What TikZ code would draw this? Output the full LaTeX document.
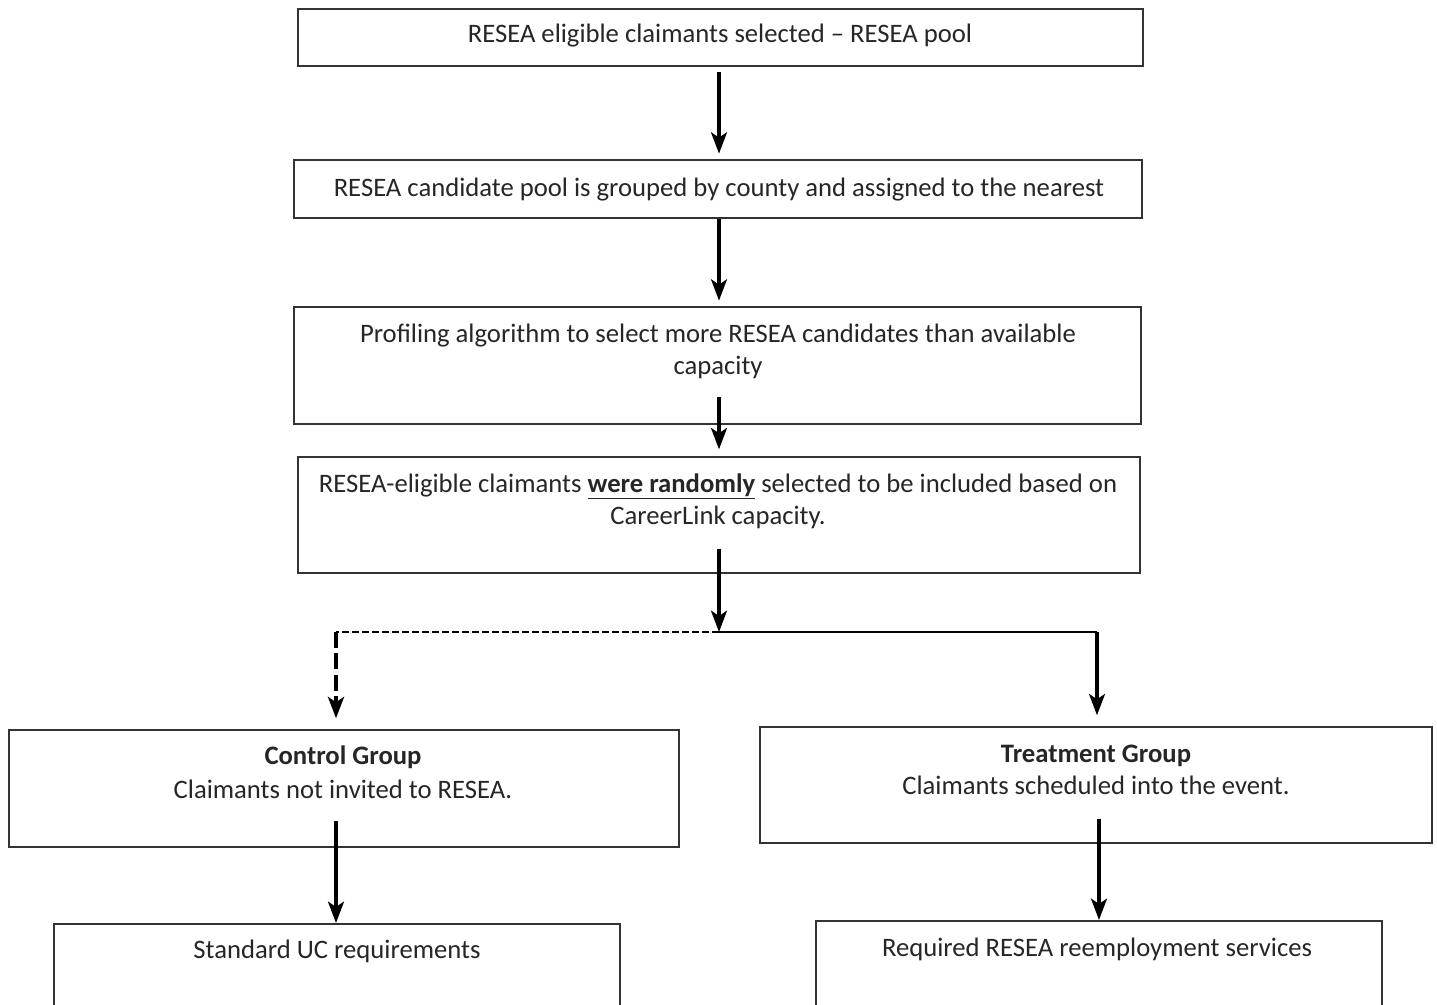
\documentclass[tikz,border=0pt]{standalone}
\usepackage{fontspec}
\setmainfont{Carlito}
\usetikzlibrary{arrows.meta}
\def\pxu{0.75pt}
\begin{document}
\begin{tikzpicture}[x=0.75pt,y=-0.75pt,
  box/.style={draw=black!80, line width=1.6pt, fill=white, inner sep=0pt},
  txt/.style={font=\fontsize{20}{24}\selectfont, text=black!85, align=center, inner sep=0pt, anchor=base},
  arr/.style={line width=2.3pt, -{Stealth[length=16pt,width=12pt,inset=4pt]}},
  thinline/.style={line width=1.5pt},
  dashh/.style={line width=1.6pt, dash pattern=on 5pt off 2.5pt},
  dashv/.style={line width=3pt, dash pattern=on 12pt off 4pt, -{Stealth[length=16pt,width=12pt,inset=4pt]}}
]
\clip (0,0) rectangle (1437,1004);
\useasboundingbox (0,0) rectangle (1437,1004);
\fill[white] (0,0) rectangle (1437,1004);

\node[box, minimum width=845*\pxu, minimum height=57*\pxu] (b1) at (720.5,37.5) {};
\node[box, minimum width=848*\pxu, minimum height=58*\pxu] (b2) at (718,189) {};
\node[box, minimum width=847*\pxu, minimum height=117*\pxu] (b3) at (717.5,365.5) {};
\node[box, minimum width=842*\pxu, minimum height=116*\pxu] (b4) at (719,515) {};
\node[box, minimum width=670*\pxu, minimum height=117*\pxu] (cg) at (344,788.5) {};
\node[box, minimum width=672*\pxu, minimum height=116*\pxu] (tg) at (1096,785) {};
\node[box, minimum width=566*\pxu, minimum height=106*\pxu] (sb) at (337,977) {};
\node[box, minimum width=566*\pxu, minimum height=109*\pxu] (rb) at (1099,975.5) {};

\node[txt] (t1) at (720,42) {RESEA eligible claimants selected – RESEA pool};
\node[txt] (t2) at (719,196) {RESEA candidate pool is grouped by county and assigned to the nearest};
\node[txt] (t3) at (718,374) {Profiling algorithm to select more RESEA candidates than available\\capacity};
\node[txt] (t4) at (718,524) {RESEA-eligible claimants \underline{\textbf{were randomly}} selected to be included based on\\CareerLink capacity.};
\node[txt] (t5) at (343,798) {\textbf{Control Group}\\[1.5pt]Claimants not invited to RESEA.};
\node[txt] (t6) at (1096,794) {\textbf{Treatment Group}\\Claimants scheduled into the event.};
\node[txt] (t7) at (337,958) {Standard UC requirements};
\node[txt] (t8) at (1097,956) {Required RESEA reemployment services};

\coordinate (j) at (719,632);
\coordinate (jl) at (336,632);
\coordinate (jr) at (1097,632);

\draw[arr] ([yshift=-4pt]b1.south -| j) -- ([yshift=4pt]b2.north -| j);
\draw[arr] (b2.south -| j) -- ([yshift=4pt]b3.north -| j);
\draw[arr] ([yshift=21pt]b3.south -| j) -- ([yshift=5pt]b4.north -| j);
\draw[arr] ([yshift=19pt]b4.south -| j) -- (j);
\draw[dashh] (j) -- (jl);
\draw[dashv] (jl) -- ([yshift=8pt]cg.north -| jl);
\draw[thinline] (j) -- (jr);
\draw[arr] (jr) -- ([yshift=8pt]tg.north -| jr);
\draw[arr] ([yshift=20pt]cg.south -| jl) -- (sb.north -| jl);
\draw[arr] ([yshift=19pt]tg.south -| 1099,0) -- (rb.north -| 1099,0);
\end{tikzpicture}
\end{document}
